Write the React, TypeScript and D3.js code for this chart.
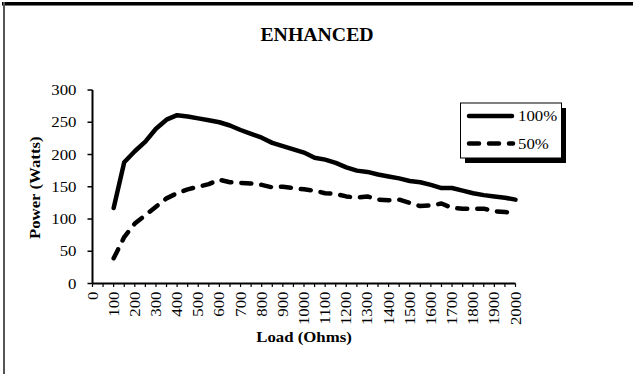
import React from "react";
import * as d3 from "d3";

const loads = [100,150,200,250,300,350,400,450,500,550,600,650,700,750,800,850,900,950,1000,1050,1100,1150,1200,1250,1300,1350,1400,1450,1500,1550,1600,1650,1700,1750,1800,1850,1900,1950,2000];
const power100 = [117,188,205,220,240,254,261,259,256,253,250,245,238,232,226,218,213,208,203,195,192,187,180,175,173,169,166,163,159,157,153,148,148,144,140,137,135,133,130];
const power50 = [39,72,93,106,119,132,140,146,150,154,161,157,156,155,153,149,150,148,146,144,140,139,135,133,135,130,129,130,125,120,121,124,117,116,116,116,112,111,109];
const xTicks = d3.range(0, 2001, 100);
const yTicks = [0, 50, 100, 150, 200, 250, 300];
const seriesNames = ["100%", "50%"];

const W = 633, H = 374;
const SX = 1.2; // horizontal stretch of the original rendering
const FS = 14;
const FONT = "'Liberation Serif', 'Times New Roman', serif";

export default function App() {
  const x = d3.scaleLinear().domain([0, 2000]).range([92.5, 515.5]);
  const y = d3.scaleLinear().domain([0, 300]).range([283.5, 90]);
  const line = d3.line<number>().x((_, i) => x(loads[i])).y((d) => y(d));
  const minor = d3.range(0, 2001, 50);

  return (
    <svg width={W} height={H} style={{ position: "absolute", left: 0, top: 0, background: "#fff" }} fontFamily={FONT}>
      <rect x={0} y={0} width={W} height={H} fill="#fff" />
      {/* chart area frame */}
      <line x1={2} x2={W} y1={5.5} y2={5.5} stroke="#777" strokeWidth={1} />
      <line x1={2} x2={W} y1={3.5} y2={3.5} stroke="#000" strokeWidth={3} />
      <line x1={4} x2={4} y1={2} y2={H} stroke="#555" strokeWidth={2} />

      {/* title */}
      <text transform={`translate(317,41) scale(1.1,1)`} textAnchor="middle" fontWeight="bold" fontSize={18}>ENHANCED</text>

      {/* y axis */}
      <line x1={x(0)} x2={x(0)} y1={y(300)} y2={y(0)} stroke="#000" strokeWidth={2} />
      {yTicks.map((t) => (
        <g key={t}>
          <line x1={x(0) - 5} x2={x(0)} y1={y(t)} y2={y(t)} stroke="#000" strokeWidth={1.5} />
          <text transform={`translate(${x(0) - 16},${y(t) + 5}) scale(${SX},1)`} textAnchor="end" fontSize={FS}>{t}</text>
        </g>
      ))}
      <text transform={`translate(40,${(y(0) + y(300)) / 2 + 1}) rotate(-90) scale(${SX},1)`} textAnchor="middle" fontWeight="bold" fontSize={FS}>Power (Watts)</text>

      {/* x axis */}
      <line x1={x(0)} x2={x(2000)} y1={y(0)} y2={y(0)} stroke="#000" strokeWidth={2} />
      {minor.map((t) => (
        <line key={t} x1={x(t)} x2={x(t)} y1={y(0)} y2={y(0) + 3.5} stroke="#000" strokeWidth={1.2} />
      ))}
      {xTicks.map((t) => (
        <text key={t} transform={`translate(${x(t) + 5},${y(0) + 8}) rotate(-90) scale(${SX},1)`} textAnchor="end" fontSize={FS}>{t}</text>
      ))}
      <text transform={`translate(${x(1000)},342) scale(${SX},1)`} textAnchor="middle" fontWeight="bold" fontSize={FS}>Load (Ohms)</text>

      {/* series */}
      <path d={line(power100) || ""} fill="none" stroke="#000" strokeWidth={4.5} strokeLinejoin="round" strokeLinecap="round" />
      <path d={line(power50) || ""} fill="none" stroke="#000" strokeWidth={4.5} strokeDasharray="10 10" strokeLinejoin="round" strokeLinecap="round" />

      {/* legend */}
      <rect x={465} y={108} width={101} height={55} fill="#000" />
      <rect x={460.5} y={103} width={101} height={55} fill="#fff" stroke="#000" strokeWidth={1} />
      <line x1={469} x2={512} y1={116} y2={116} stroke="#000" strokeWidth={4.5} strokeLinecap="round" />
      <line x1={469} x2={513} y1={143.5} y2={143.5} stroke="#000" strokeWidth={4.5} strokeDasharray="10 10" strokeLinecap="round" />
      <text transform={`translate(518,121) scale(${SX},1)`} fontSize={FS}>{seriesNames[0]}</text>
      <text transform={`translate(518,148.5) scale(${SX},1)`} fontSize={FS}>{seriesNames[1]}</text>
    </svg>
  );
}
